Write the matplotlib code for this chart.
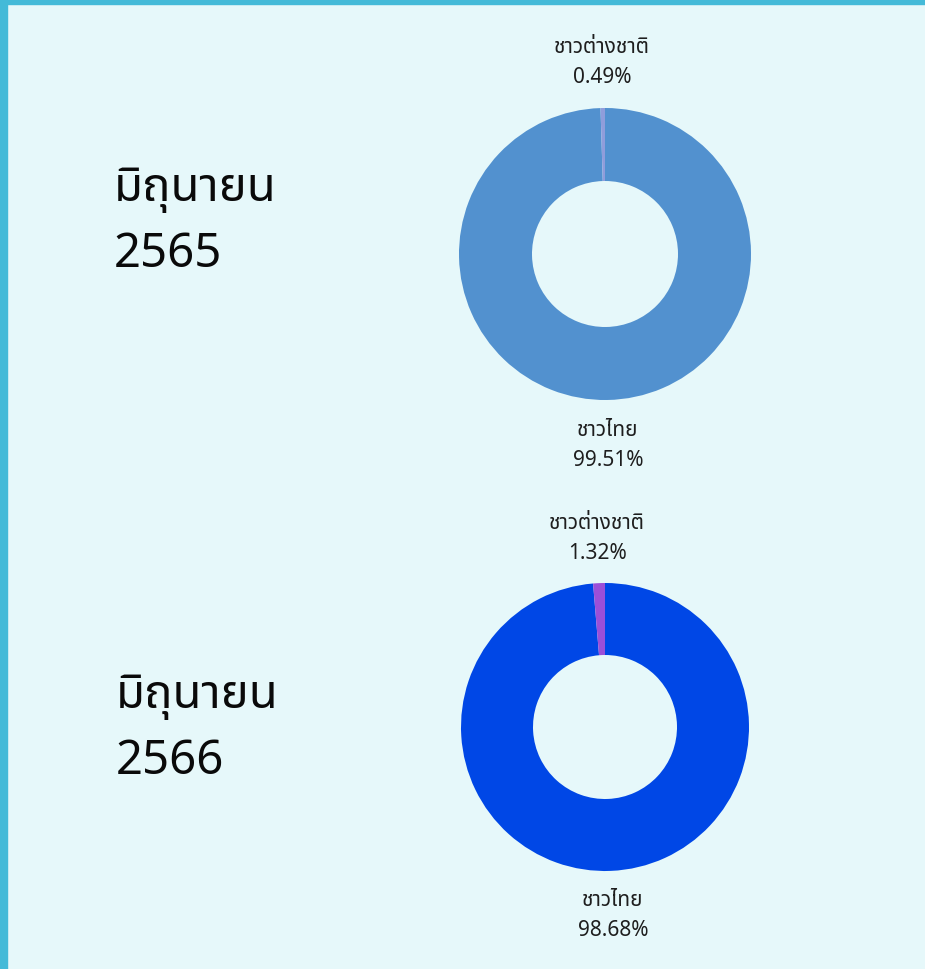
import matplotlib
matplotlib.use("Agg")
import matplotlib.pyplot as plt
from matplotlib.patches import Rectangle

plt.rcParams['font.family'] = ['Noto Sans Thai', 'DejaVu Sans']

# data
titles = ['มิถุนายน\n2565', 'มิถุนายน\n2566']
groups = ['ชาวไทย', 'ชาวต่างชาติ']
shares_2565 = [99.51, 0.49]
shares_2566 = [98.68, 1.32]
colors_2565 = ['#5291cf', '#8f9ddb']
colors_2566 = ['#0047e6', '#9b4fd8']

W, H = 925, 969
bg = '#e6f8fa'
border = '#44bad8'

fig = plt.figure(figsize=(W / 100, H / 100), dpi=100, facecolor=bg)

# frame on top and left
fig.patches.append(Rectangle((0, 1 - 4 / H), 1, 4 / H, transform=fig.transFigure,
                             color=border, zorder=5))
fig.patches.append(Rectangle((0, 0), 7 / W, 1, transform=fig.transFigure,
                             color=border, zorder=5))

def donut(cx, cy, r, values, colors, title, tx, ty):
    half = 1.5 * r
    ax = fig.add_axes([(cx - half) / W, (H - cy - half) / H, 2 * half / W, 2 * half / H])
    ax.set_facecolor('none')
    labels = [f'{g}\n{v:.2f}%' for g, v in zip(groups, values)]
    wedges, texts = ax.pie(values, colors=colors, startangle=90, counterclock=False,
                           radius=1, wedgeprops=dict(width=0.5, linewidth=0),
                           labels=labels, labeldistance=1.31,
                           textprops=dict(fontsize=15, color='#1e1e1e',
                                          ha='center', va='center', linespacing=1.55))
    for t in texts:
        t.set_horizontalalignment('center')
    ax.set_xlim(-1.5, 1.5)
    ax.set_ylim(-1.5, 1.5)
    ax.set_aspect('equal')
    ax.axis('off')
    fig.text(tx / W, 1 - ty / H, title, fontsize=34, color='#0a0a0a',
             ha='left', va='center', linespacing=1.5)

donut(605, 254, 146, shares_2565, colors_2565, titles[0], 114, 222)
donut(605, 727, 144, shares_2566, colors_2566, titles[1], 116, 729)

fig.savefig('out.png', facecolor=bg)
